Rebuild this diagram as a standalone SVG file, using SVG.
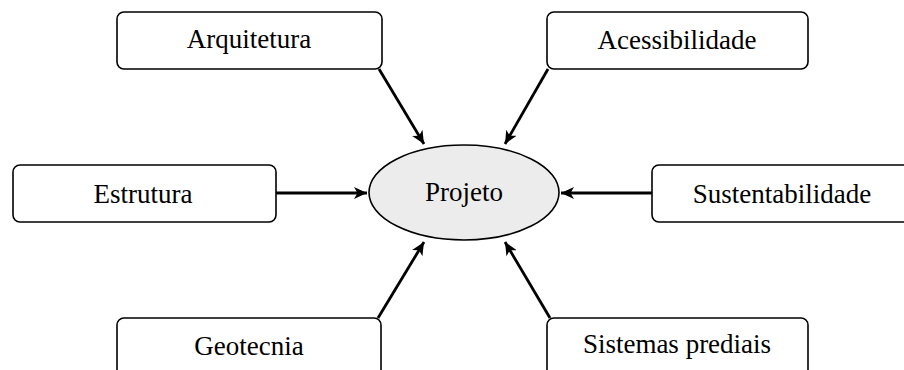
<svg xmlns="http://www.w3.org/2000/svg" width="904" height="370" viewBox="0 0 904 370">
<style>
.box{fill:#fff;stroke:#000;stroke-width:1.6}
.lbl{font-family:"Liberation Serif","Times New Roman",serif;font-size:27px;fill:#000;text-anchor:middle}
.con{stroke:#000;stroke-width:2.8;fill:none;marker-end:url(#ah)}
</style>
<defs>
<marker id="ah" markerWidth="14" markerHeight="14" viewBox="0 0 14 14" refX="13" refY="7" orient="auto" markerUnits="userSpaceOnUse">
<path d="M0,1 L13,7 L0,13 L3.5,7 Z" fill="#000"/>
</marker>
</defs>
<rect width="904" height="370" fill="#fff"/>
<g id="connectors">
<line class="con" x1="379" y1="69" x2="424" y2="144"/>
<line class="con" x1="548" y1="69" x2="505" y2="144"/>
<line class="con" x1="276" y1="193" x2="367" y2="193"/>
<line class="con" x1="652" y1="193" x2="561" y2="193"/>
<line class="con" x1="378" y1="318" x2="424" y2="242"/>
<line class="con" x1="550" y1="318" x2="505" y2="242"/>
</g>
<g id="projeto">
<ellipse cx="464" cy="192.5" rx="95" ry="47.5" fill="#ececec" stroke="#000" stroke-width="1.6"/>
<text class="lbl" x="464" y="201">Projeto</text>
</g>
<g id="arquitetura">
<rect class="box" x="117" y="12" width="265" height="57" rx="7"/>
<text class="lbl" x="249" y="48">Arquitetura</text>
</g>
<g id="acessibilidade">
<rect class="box" x="547" y="12" width="261" height="57" rx="7"/>
<text class="lbl" x="677" y="49">Acessibilidade</text>
</g>
<g id="estrutura">
<rect class="box" x="13" y="165" width="263" height="57" rx="7"/>
<text class="lbl" x="143" y="203">Estrutura</text>
</g>
<g id="sustentabilidade">
<rect class="box" x="652" y="165" width="262" height="57" rx="7"/>
<text class="lbl" x="782" y="203">Sustentabilidade</text>
</g>
<g id="geotecnia">
<rect class="box" x="117" y="318" width="264" height="60" rx="7"/>
<text class="lbl" x="249" y="355">Geotecnia</text>
</g>
<g id="sistemas">
<rect class="box" x="547" y="318" width="261" height="60" rx="7"/>
<text class="lbl" x="677" y="353">Sistemas prediais</text>
</g>
</svg>
